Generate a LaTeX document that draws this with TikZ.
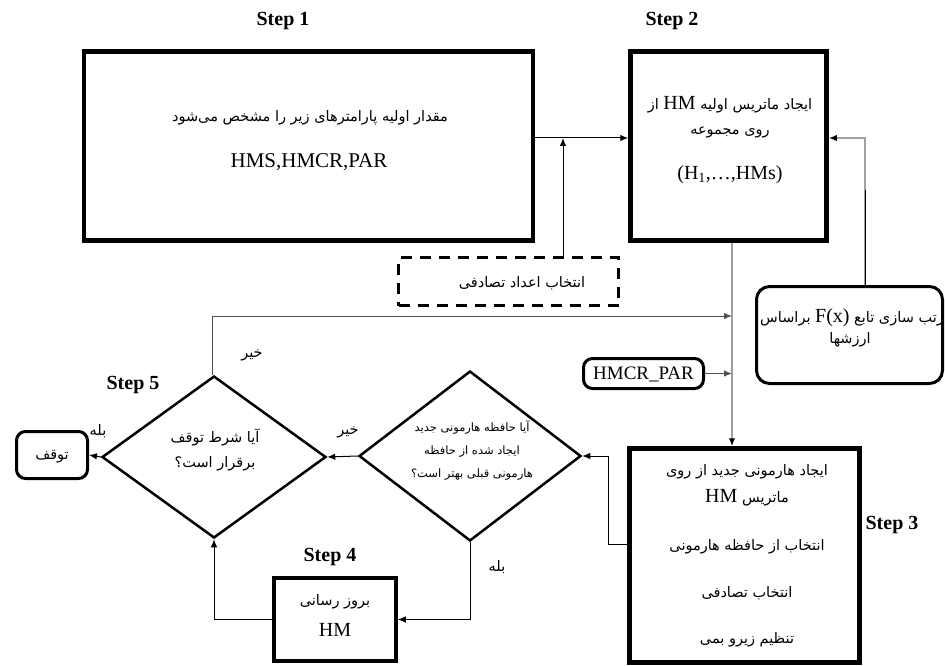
\documentclass[tikz,border=0pt]{standalone}
\usepackage{fontspec}
\setmainfont{Liberation Serif}
\newfontfamily\fafont[Script=Arabic]{DejaVu Sans}
\TeXXeTstate=1
\usetikzlibrary{shapes.geometric,arrows.meta}
\newcommand\fatx[1]{{\fafont\beginR #1\endR}}
\newcommand\fsz[1]{\fontsize{#1}{#1}\selectfont}
\definecolor{lgray}{HTML}{A0A0A0}
\definecolor{dgray}{HTML}{505050}
\tikzset{
  bigbox/.style={draw, line width=4.5pt, inner sep=0pt},
  midbox/.style={draw, line width=3.5pt, inner sep=0pt},
  rbox/.style={draw, line width=3pt, rounded corners=9pt, inner sep=0pt},
  dbox/.style={draw, line width=3pt, dash pattern=on 11pt off 8pt, inner sep=0pt},
  dia/.style={draw, diamond, line width=2.5pt, inner sep=0pt},
  steplbl/.style={font=\bfseries\fsz{20}, inner sep=0pt},
  fa/.style={font=\fsz{14.5}, inner sep=0pt},
  fas/.style={font=\fsz{11.5}, inner sep=0pt},
  lat/.style={font=\fsz{20}, inner sep=0pt},
  arr/.style={-{Latex[length=8pt,width=6.5pt]}, line width=1pt},
  garr/.style={draw=lgray, line width=1.6pt, -{Latex[length=8pt,width=6.5pt,color=black]}}
}
\begin{document}
\begin{tikzpicture}[x=1pt,y=-1pt]
\useasboundingbox (0,0) rectangle (945,666);
% step labels
\node[steplbl] (s1) at (283,21) {Step 1};
\node[steplbl] (s2) at (672,21) {Step 2};
\node[steplbl] (s3) at (892,525) {Step 3};
\node[steplbl] (s4) at (330,557) {Step 4};
\node[steplbl] (s5) at (133,385) {Step 5};
% boxes
\node[bigbox, minimum width=449pt, minimum height=189pt] (b1) at (308.5,146) {};
\node[bigbox, minimum width=196pt, minimum height=189pt] (b2) at (728.5,146) {};
\node[bigbox, minimum width=230pt, minimum height=214pt] (b3) at (744.5,555.5) {};
\node[midbox, minimum width=122pt, minimum height=83pt] (b4) at (335,619.5) {};
\node[rbox, minimum width=71pt, minimum height=47pt] (stop) at (52,455) {};
\node[rbox, minimum width=120pt, minimum height=30pt] (hp) at (643.5,373.5) {};
\node[rbox, minimum width=186pt, minimum height=97pt, rounded corners=13pt] (rb) at (849.5,335) {};
\node[dbox, minimum width=220pt, minimum height=48pt] (db) at (508.5,281.5) {};
\node[dia, minimum width=224pt, minimum height=162pt] (d5) at (214,457) {};
\node[dia, minimum width=222pt, minimum height=170pt] (d4) at (470,456) {};
% texts
\node[fa] (t1a) at (310,118) {\fatx{مقدار اولیه  پارامترهای زیر را مشخص می‌شود}};
\node[lat, font=\fsz{21}] (t1b) at (309,162) {HMS,HMCR,PAR};
\node[fa] (t2a) at (730,105) {\fatx{ایجاد ماتریس اولیه {\rmfamily\fsz{20}HM} از}};
\node[fa] (t2b) at (730,132) {\fatx{روی مجموعه}};
\node[lat] (t2c) at (730,175) {(H\textsubscript{1},…,HMs)};
\node[fa] (tdb) at (522,283) {\fatx{انتخاب اعداد تصادفی}};
\node[fa] (trb1) at (852,318) {\fatx{رتب سازی تابع {\rmfamily\fsz{20}F(x)} براساس}};
\node[fa] (trb2) at (850,340) {\fatx{ارزشها}};
\node[inner sep=0pt, font=\fsz{19}] (thp) at (643.5,374) {HMCR\_PAR};
\node[fa] (t3a) at (747,472) {\fatx{ایجاد هارمونی جدید از روی}};
\node[fa] (t3b) at (747,498) {\fatx{ماتریس {\rmfamily\fsz{20}HM}}};
\node[fa] (t3c) at (747,547) {\fatx{انتخاب از حافظه هارمونی}};
\node[fa] (t3d) at (747,593) {\fatx{انتخاب تصادفی}};
\node[fa] (t3e) at (747,640) {\fatx{تنظیم زیرو بمی}};
\node[fas] (t4a) at (472,428) {\fatx{آیا حافظه هارمونی جدید}};
\node[fas] (t4b) at (472,452) {\fatx{ایجاد شده از حافظه}};
\node[fas] (t4c) at (472,475) {\fatx{هارمونی قبلی بهتر است؟}};
\node[fa] (t5a) at (215,437) {\fatx{آیا شرط توقف}};
\node[fa] (t5b) at (215,464) {\fatx{برقرار است؟}};
\node[fa] (tb4a) at (335,602) {\fatx{بروز رسانی}};
\node[lat] (tb4b) at (335,630) {HM};
\node[fa] (tstop) at (52,457) {\fatx{توقف}};
\node[fa] (lk1) at (252,355) {\fatx{خیر}};
\node[fa] (lk2) at (348,432) {\fatx{خیر}};
\node[fa] (lb1) at (98,431) {\fatx{بله}};
\node[fa] (lb2) at (497,567) {\fatx{بله}};
% connectors
\coordinate (j1) at (563,138);
\coordinate (fb) at (865,138);
\coordinate (fbm) at (865,190);
\coordinate (top) at (212,316);
\coordinate (gl) at (732,316);
\draw[arr] (b1.east |- j1) -- (b2.west |- j1);
\draw[arr] (db.north -| j1) -- (j1);
\draw[garr] (rb.north -| fb) -- (fb) -- (b2.east |- fb);
\draw[line width=1pt] (rb.north -| fb) -- (fbm);
\draw[garr] (b2.south -| gl) -- (b3.north -| gl);
\draw[arr, draw=dgray] (d5.north -| top) -- (top) -- (gl);
\draw[arr, draw=dgray] (hp.east) -- (hp.east -| gl);
\draw[arr] (b3.west |- 0,544) -- (608,544) -- (608,456) -- (d4.east);
\draw[arr] (d4.west) -- (d5.east);
\draw[arr] (d4.south) -- (d4.south |- b4.east) -- (b4.east);
\draw[arr] (b4.west) -- (b4.west -| d5.south) -- (d5.south);
\draw[arr] (d5.west) -- (stop.east);
\end{tikzpicture}
\end{document}
